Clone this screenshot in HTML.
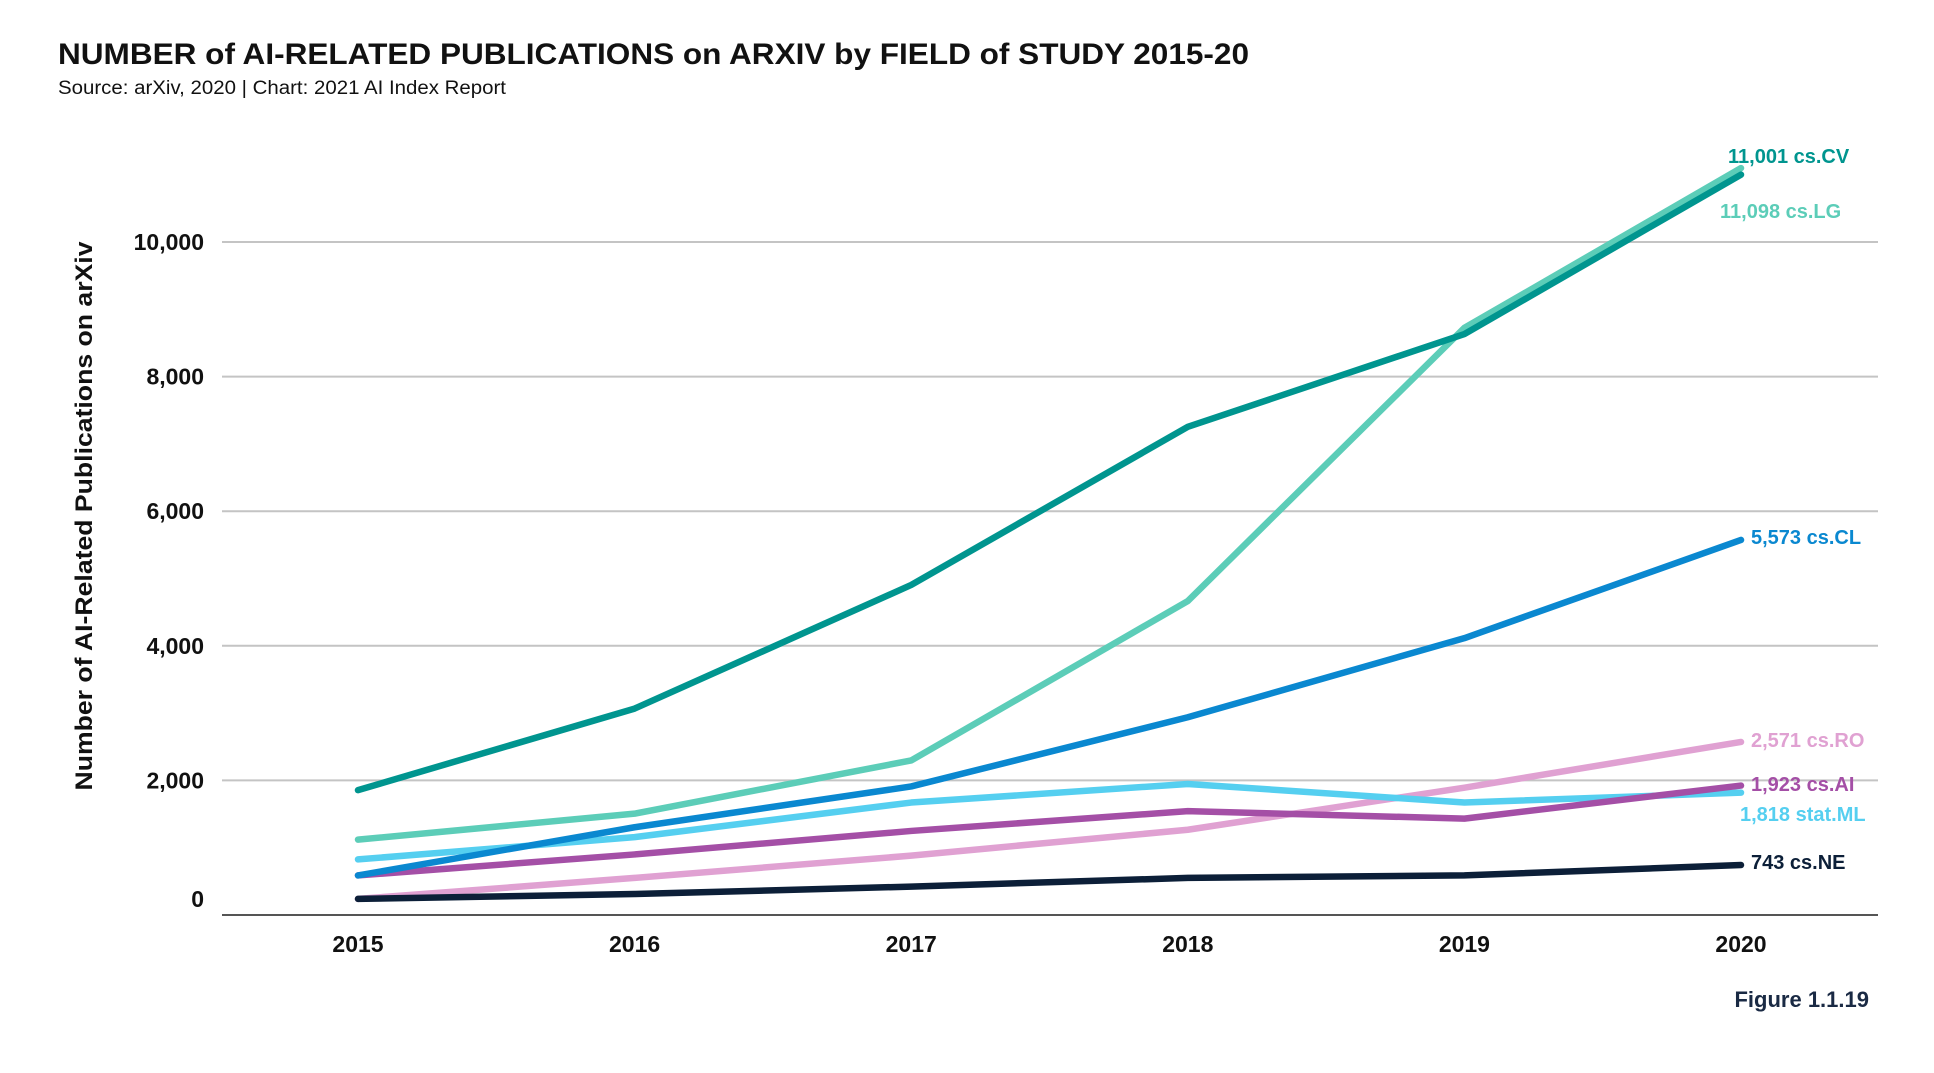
<!DOCTYPE html>
<html><head><meta charset="utf-8">
<style>
html,body{margin:0;padding:0;background:#fff;}
body{width:1934px;height:1068px;overflow:hidden;font-family:"Liberation Sans",sans-serif;}
</style></head>
<body>
<svg id="chart" width="1934" height="1068" xmlns="http://www.w3.org/2000/svg">
<text x="58" y="64" font-size="30" font-weight="bold" fill="#111" textLength="1191" lengthAdjust="spacingAndGlyphs" font-family="Liberation Sans, sans-serif">NUMBER of AI-RELATED PUBLICATIONS on ARXIV by FIELD of STUDY 2015-20</text>
<text x="58" y="94" font-size="19" fill="#111" textLength="448" lengthAdjust="spacingAndGlyphs" font-family="Liberation Sans, sans-serif">Source: arXiv, 2020 | Chart: 2021 AI Index Report</text>
<text transform="translate(92,516) rotate(-90)" text-anchor="middle" font-size="24" font-weight="bold" fill="#111" textLength="549" lengthAdjust="spacingAndGlyphs" font-family="Liberation Sans, sans-serif">Number of AI-Related Publications on arXiv</text>
<text x="1869" y="1007" text-anchor="end" font-size="22" font-weight="bold" fill="#1a2a44" font-family="Liberation Sans, sans-serif">Figure 1.1.19</text>
<g id="grid"></g><g id="lines"></g><g id="labels"></g>
</svg>
<script>
const years = ["2015","2016","2017","2018","2019","2020"];
const yTicks = [0,2000,4000,6000,8000,10000];
const yTickLabels = ["0","2,000","4,000","6,000","8,000","10,000"];
const csCV = [1855,3067,4904,7254,8632,11001];
const csLG = [1120,1506,2296,4665,8724,11098];
const csCL = [588,1304,1910,2938,4114,5573];
const statML = [826,1157,1671,1947,1671,1818];
const csAI = [588,900,1249,1543,1432,1923];
const csRO = [239,551,882,1267,1892,2571];
const csNE = [239,312,422,551,588,743];
const seriesNames = ["cs.RO","cs.NE","stat.ML","cs.AI","cs.CL","cs.LG","cs.CV"];
const endLabels = ["2,571 cs.RO","743 cs.NE","1,818 stat.ML","1,923 cs.AI","5,573 cs.CL","11,098 cs.LG","11,001 cs.CV"];

const NS="http://www.w3.org/2000/svg";
const X=i=>358+i*276.6;
const Y=v=>915-v*0.0673;
const series=[
 {d:csRO,c:"#e0a1d2",lx:1751,ly:747},
 {d:csNE,c:"#0c1f38",lx:1751,ly:869},
 {d:statML,c:"#55cff0",lx:1740,ly:821},
 {d:csAI,c:"#a44fa6",lx:1751,ly:791},
 {d:csCL,c:"#0a88d0",lx:1751,ly:544},
 {d:csLG,c:"#5ccdb8",lx:1720,ly:218},
 {d:csCV,c:"#00958f",lx:1728,ly:163}
];
const grid=document.getElementById('grid');
yTicks.forEach((t,i)=>{
  if(t>0){
    const l=document.createElementNS(NS,'line');
    
    
    l.setAttribute('x1',222);l.setAttribute('x2',1878);
    l.setAttribute('y1',Y(t));l.setAttribute('y2',Y(t));
    l.setAttribute('stroke','#c4c4c4');l.setAttribute('stroke-width',2);
    grid.appendChild(l);
  }
  const tx=document.createElementNS(NS,'text');
  
  
  tx.setAttribute('x',204);tx.setAttribute('y',Y(t)+8-(t===0?16:0));
  tx.setAttribute('text-anchor','end');tx.setAttribute('font-size','23');tx.setAttribute('font-weight','bold');
  tx.setAttribute('fill','#111');tx.textContent=yTickLabels[i];
  grid.appendChild(tx);
});
const ax=document.createElementNS(NS,'line');


ax.setAttribute('x1',222);ax.setAttribute('x2',1878);ax.setAttribute('y1',Y(0));ax.setAttribute('y2',Y(0));
ax.setAttribute('stroke','#555');ax.setAttribute('stroke-width',2);
grid.appendChild(ax);
years.forEach((y,i)=>{
  const tx=document.createElementNS(NS,'text');
  
  
  tx.setAttribute('x',X(i));tx.setAttribute('y',952);
  tx.setAttribute('text-anchor','middle');tx.setAttribute('font-size','23');tx.setAttribute('font-weight','bold');
  tx.setAttribute('fill','#111');tx.textContent=y;
  grid.appendChild(tx);
});
const lines=document.getElementById('lines'),labels=document.getElementById('labels');
series.forEach((s,k)=>{
  const p=document.createElementNS(NS,'polyline');
  
  
  p.setAttribute('points',s.d.map((v,i)=>X(i)+','+Y(v)).join(' '));
  p.setAttribute('fill','none');p.setAttribute('stroke',s.c);p.setAttribute('stroke-width',6.5);
  p.setAttribute('stroke-linecap','round');p.setAttribute('stroke-linejoin','round');
  lines.appendChild(p);
  const t=document.createElementNS(NS,'text');
  
  
  t.setAttribute('x',s.lx);t.setAttribute('y',s.ly);
  t.setAttribute('font-size','20');t.setAttribute('font-weight','bold');t.setAttribute('fill',s.c);
  t.textContent=endLabels[k];
  labels.appendChild(t);
});
</script>
</body></html>
